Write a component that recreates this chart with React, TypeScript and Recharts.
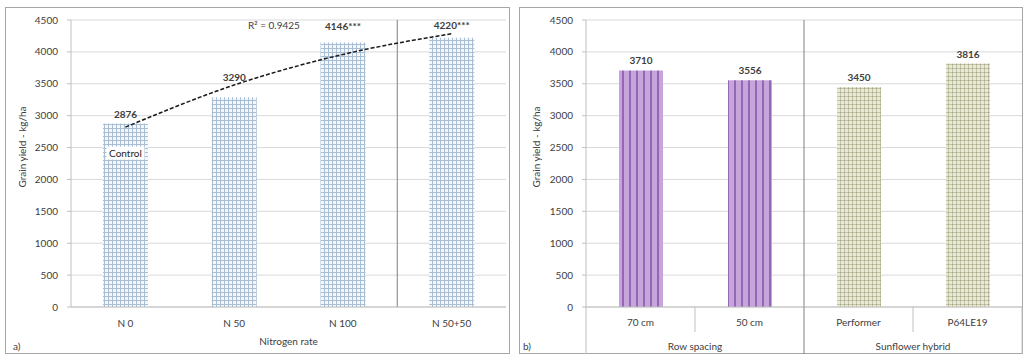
import { ComposedChart, BarChart, Bar, Line, XAxis, YAxis, CartesianGrid, ReferenceLine, LabelList, Cell } from 'recharts';

// panel a) nitrogen rate
const nitrogenRates = ['N 0', 'N 50', 'N 100', 'N 50+50'];
const nitrogenYield = [2876, 3290, 4146, 4220];
const nitrogenSignif = ['', '', '***', '***'];
const nitrogenTrend = [2820, 3480, 3960, 4285];
const trendR2 = 'R² = 0.9425';

// panel b) row spacing + hybrid
const factorLevels = ['70 cm', '50 cm', 'Performer', 'P64LE19'];
const factorYield = [3710, 3556, 3450, 3816];
const factorGroups = ['Row spacing', 'Row spacing', 'Sunflower hybrid', 'Sunflower hybrid'];

const yTicks = [0, 500, 1000, 1500, 2000, 2500, 3000, 3500, 4000, 4500];
const yTitle = 'Grain yield - kg/ha';

const FONT = "Lato, 'Open Sans', sans-serif";
const TEXT = '#404040';
const AXIS = '#bfbfbf';
const GRID = '#d9d9d9';
const SEP = '#808080';

const H = 357;
const LEFT_W = 512;
const RIGHT_W = 514;
const LEFT_MARGIN = { top: 20, right: 6, bottom: 0, left: 0 };
const RIGHT_MARGIN = { top: 20, right: 4, bottom: 0, left: 0 };
const LEFT_YW = 71;
const RIGHT_YW = 74;
const RIGHT_BAND = (RIGHT_W - RIGHT_YW - RIGHT_MARGIN.right) / factorLevels.length;

// how far each value label sits above its bar (a: pushed up by the trend line)
const LIFT_A = [10, 20, 17, 13];
const LIFT_B = 10;

const nitrogenData = nitrogenRates.map((rate, i) => ({
  rate,
  yield: nitrogenYield[i],
  trend: nitrogenTrend[i],
}));

const factorData = factorLevels.map((level, i) => ({
  level,
  yield: factorYield[i],
  group: factorGroups[i],
}));

function NitrogenTick({ x, y, payload }: any) {
  return (
    <text x={x} y={y + 16} textAnchor="middle" dominantBaseline="central" fontSize={10} fill={TEXT} fontFamily={FONT}>
      {payload.value}
    </text>
  );
}

function FactorTick({ x, y, payload, index }: any) {
  const i = payload?.index ?? index;
  const half = RIGHT_BAND / 2;
  const n = factorLevels.length;
  const lastOfGroup = i === n - 1 || factorGroups[i] !== factorGroups[i + 1];
  const firstOfGroup = i === 0 || factorGroups[i] !== factorGroups[i - 1];
  const groupSize = factorGroups.filter((g) => g === factorGroups[i]).length;
  return (
    <g>
      <text x={x} y={y + 15} textAnchor="middle" dominantBaseline="central" fontSize={10} fill={TEXT} fontFamily={FONT}>
        {payload.value}
      </text>
      {i === 0 && <line x1={x - half} x2={x - half} y1={y} y2={y + 47} stroke={AXIS} />}
      <line x1={x + half} x2={x + half} y1={y} y2={y + (lastOfGroup ? 47 : 25)} stroke={lastOfGroup && i < n - 1 ? SEP : AXIS} />
      {firstOfGroup && (
        <text
          x={x - half + (groupSize * RIGHT_BAND) / 2}
          y={y + 39}
          textAnchor="middle"
          dominantBaseline="central"
          fontSize={10}
          fill={TEXT}
          fontFamily={FONT}
        >
          {factorGroups[i]}
        </text>
      )}
    </g>
  );
}

function NitrogenLabel(props: any) {
  const { index, value } = props;
  const vb = props.viewBox ?? props;
  const cx = vb.x + vb.width / 2;
  return (
    <g>
      <text x={cx} y={vb.y - LIFT_A[index]} textAnchor="middle" dominantBaseline="central" fontSize={10} fontWeight="bold" fill={TEXT} fontFamily={FONT}>
        {value}
        {nitrogenSignif[index]}
      </text>
      {index === 0 && (
        <g>
          <rect x={cx - 19} y={vb.y + 23} width={38} height={13} fill="#fff" />
          <text x={cx} y={vb.y + 29.5} textAnchor="middle" dominantBaseline="central" fontSize={10} fill="#262626" fontFamily={FONT}>
            Control
          </text>
        </g>
      )}
    </g>
  );
}

function FactorLabel(props: any) {
  const { value } = props;
  const vb = props.viewBox ?? props;
  return (
    <text x={vb.x + vb.width / 2} y={vb.y - LIFT_B} textAnchor="middle" dominantBaseline="central" fontSize={10} fontWeight="bold" fill={TEXT} fontFamily={FONT}>
      {value}
    </text>
  );
}

const panelStyle = (left: number, width: number): React.CSSProperties => ({
  position: 'absolute',
  left,
  top: 7,
  width,
  height: 347,
  border: '1px solid #a6a6a6',
  boxSizing: 'border-box',
});

const noteStyle = (left: number, top: number): React.CSSProperties => ({
  position: 'absolute',
  left,
  top,
  fontFamily: FONT,
  fontSize: 10,
  color: TEXT,
  whiteSpace: 'nowrap',
  lineHeight: '12px',
});

const yTitleStyle = (cx: number): React.CSSProperties => ({
  ...noteStyle(cx, 147),
  transform: 'translate(-50%, -50%) rotate(-90deg)',
});

export default function App() {
  return (
    <div style={{ position: 'absolute', left: 0, top: 0, width: 1026, height: H, background: '#fff', fontFamily: FONT }}>
      <div style={panelStyle(5, 505)} />
      <div style={panelStyle(519, 504)} />

      <div style={{ position: 'absolute', left: 0, top: 0 }}>
        <ComposedChart width={LEFT_W} height={H} data={nitrogenData} margin={LEFT_MARGIN}>
          <defs>
            <pattern id="gridBlue" width={4} height={4} patternUnits="userSpaceOnUse">
              <rect width={4} height={4} fill="#f4f7fb" />
              <path d="M0 0.5 H4 M0.5 0 V4" stroke="#a9bed2" strokeWidth={1} />
            </pattern>
          </defs>
          <CartesianGrid vertical={false} stroke={GRID} />
          <XAxis
            dataKey="rate"
            height={50}
            stroke={AXIS}
            tickLine={false}
            tickSize={0}
            tickMargin={0}
            tick={<NitrogenTick />}
            label={{ value: 'Nitrogen rate', position: 'insideBottom', offset: 12, fontSize: 10, fill: TEXT, fontFamily: FONT }}
          />
          <YAxis
            width={LEFT_YW}
            domain={[0, 4500]}
            ticks={yTicks}
            stroke={AXIS}
            tickSize={4}
            tickMargin={9}
            tick={{ fontSize: 10, fill: TEXT, fontFamily: FONT }}
          />
          <ReferenceLine x={nitrogenRates[3]} position="start" stroke={SEP} />
          <Bar dataKey="yield" fill="url(#gridBlue)" barSize={45} isAnimationActive={false}>
            <LabelList dataKey="yield" content={<NitrogenLabel />} />
          </Bar>
          <Line
            dataKey="trend"
            type="monotone"
            stroke="#1a1a1a"
            strokeWidth={1.5}
            strokeDasharray="4 2"
            dot={false}
            isAnimationActive={false}
          />
        </ComposedChart>
      </div>

      <div style={{ position: 'absolute', left: 512, top: 0 }}>
        <BarChart width={RIGHT_W} height={H} data={factorData} margin={RIGHT_MARGIN}>
          <defs>
            <pattern id="purpleStripes" width={7} height={7} patternUnits="userSpaceOnUse">
              <rect width={7} height={7} fill="#c6a5db" />
              <rect x={5} width={2} height={7} fill="#9467b6" />
            </pattern>
            <pattern id="khakiDots" width={4} height={4} patternUnits="userSpaceOnUse">
              <rect width={4} height={4} fill="#e9e9d9" />
              <path d="M0 0.5 H4 M0.5 0 V4" stroke="#c2c2a4" strokeWidth={1} />
              <rect width={1} height={1} fill="#a9a98a" />
            </pattern>
          </defs>
          <CartesianGrid vertical={false} stroke={GRID} />
          <XAxis
            dataKey="level"
            height={50}
            stroke={AXIS}
            tickLine={false}
            tickSize={0}
            tickMargin={0}
            tick={<FactorTick />}
          />
          <YAxis
            width={RIGHT_YW}
            domain={[0, 4500]}
            ticks={yTicks}
            stroke={AXIS}
            tickSize={4}
            tickMargin={9}
            tick={{ fontSize: 10, fill: TEXT, fontFamily: FONT }}
          />
          <ReferenceLine x={factorLevels[2]} position="start" stroke={SEP} />
          <Bar dataKey="yield" barSize={44} isAnimationActive={false}>
            {factorData.map((d, i) => (
              <Cell key={`cell-${i}`} fill={d.group === factorGroups[0] ? 'url(#purpleStripes)' : 'url(#khakiDots)'} />
            ))}
            <LabelList dataKey="yield" content={<FactorLabel />} />
          </Bar>
        </BarChart>
      </div>

      <div style={yTitleStyle(22)}>{yTitle}</div>
      <div style={yTitleStyle(536)}>{yTitle}</div>
      <div style={noteStyle(248, 19)}>{trendR2}</div>
      <div style={noteStyle(13, 340)}>a)</div>
      <div style={noteStyle(523, 340)}>b)</div>
    </div>
  );
}
